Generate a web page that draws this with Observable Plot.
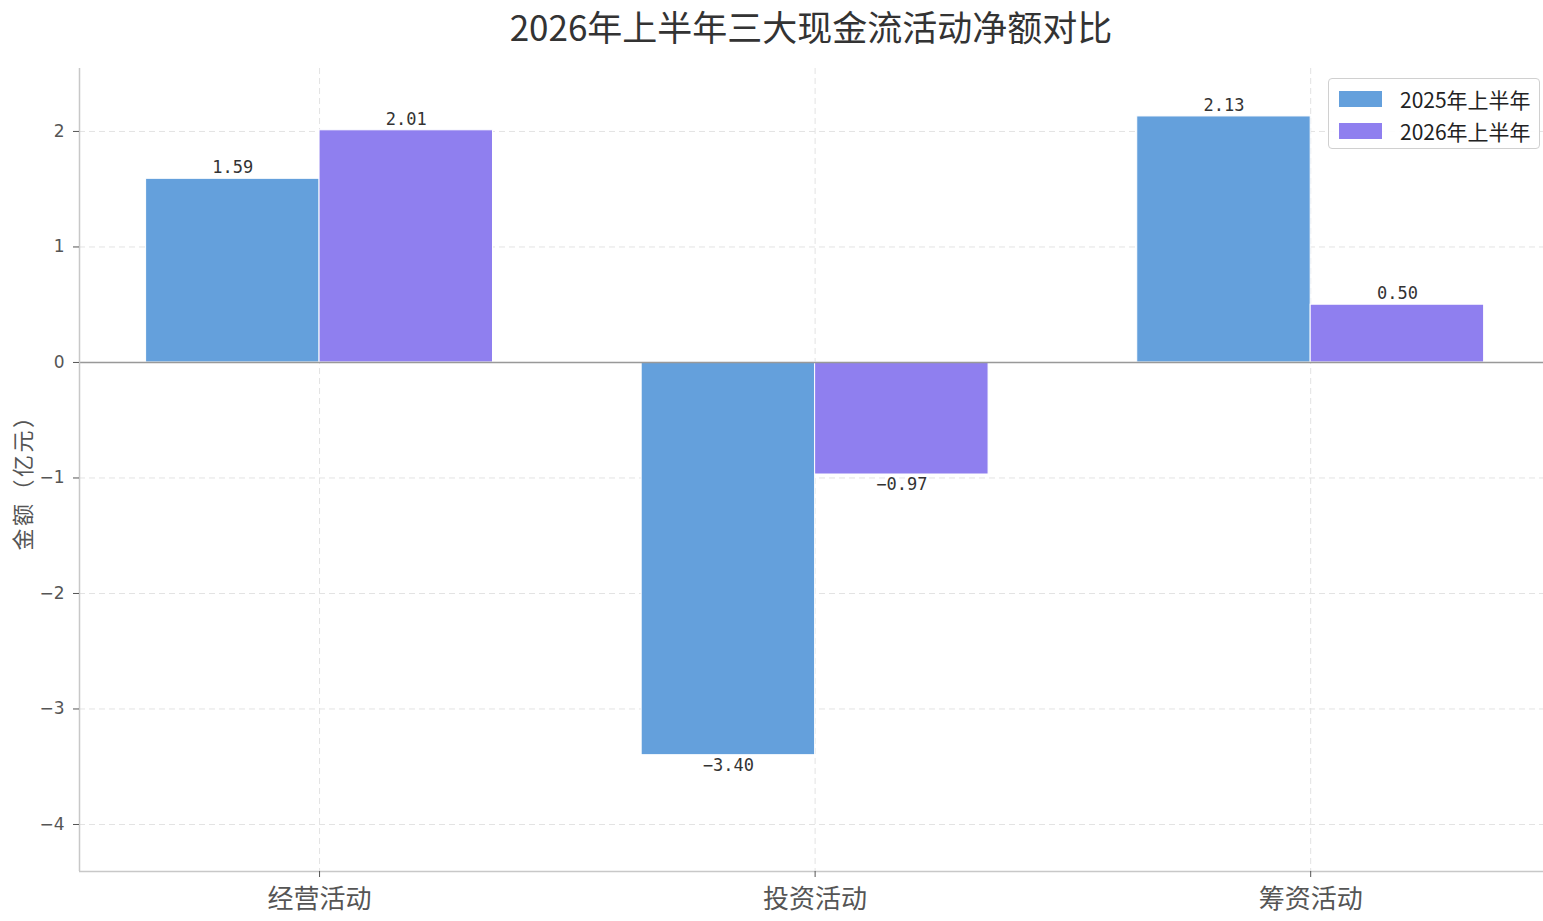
<!DOCTYPE html>
<html>
<head>
<meta charset="utf-8">
<script src="https://cdn.jsdelivr.net/npm/d3@7"></script>
<script src="https://cdn.jsdelivr.net/npm/@observablehq/plot@0.6"></script>
<style>
  html, body { margin: 0; padding: 0; background: #fff; }
  #wrap { position: relative; width: 1543px; height: 921px; overflow: hidden; }
  #title { position: absolute; left: 79px; top: 0px; width: 1464px; text-align: center;
           font-family: "Noto Sans CJK SC", sans-serif; font-size: 35px; line-height: normal; color: #333; white-space: nowrap; }
  #chart { position: absolute; left: 0; top: 50px; }
  #ylabel { position: absolute; left: 21px; top: 477px; transform: translate(-50%, -50%) rotate(-90deg);
            font-family: "Noto Sans CJK SC", sans-serif; font-size: 22px; color: #555; white-space: nowrap;
            letter-spacing: 2.5px; font-feature-settings: "fwid" 1; }
  #legend { position: absolute; left: 1328px; top: 78px; width: 212px; height: 71px; box-sizing: border-box;
            border: 1.5px solid #d0d0d0; border-radius: 4px; background: rgba(255,255,255,0.9);
            font-family: "Noto Sans CJK SC", sans-serif; font-size: 21px; color: #222; }
  .item { position: absolute; left: 10px; height: 28px; display: flex; align-items: center; }
  .sw { width: 43px; height: 16px; margin-right: 18px; }
</style>
</head>
<body>
<div id="wrap">
  <div id="title"></div>
  <div id="chart"></div>
  <div id="ylabel"></div>
  <div id="legend"></div>
</div>
<script>
const title = "2026年上半年三大现金流活动净额对比";
const yLabel = "金额（亿元）";
const categories = ["经营活动", "投资活动", "筹资活动"];
const seriesNames = ["2025年上半年", "2026年上半年"];
const values2025 = [1.59, -3.40, 2.13];
const values2026 = [2.01, -0.97, 0.50];
const colors = ["#64a0dc", "#8f7fef"];
const yTicks = [-4, -3, -2, -1, 0, 1, 2];

const seriesValues = [values2025, values2026];
const barW = 0.35;
const rows = [];
seriesValues.forEach((vals, j) => vals.forEach((v, i) => rows.push({
  cat: categories[i], i, series: seriesNames[j], j, value: v,
  x1: i - barW + j * barW, x2: i + j * barW
})));

document.getElementById("title").textContent = title;
document.getElementById("ylabel").textContent = yLabel;

const xDomain = [-0.4844, 2.4698];
const yDomain = [-4.407, 2.545];
const fmtTick = d => d < 0 ? "\u2212" + Math.abs(d) : String(d);
const fmtVal = d => d.toFixed(2);

const chart = Plot.plot({
  width: 1543,
  height: 871,
  marginTop: 18,
  marginBottom: 50,
  marginLeft: 79,
  marginRight: 0,
  style: { fontFamily: "'Noto Sans CJK SC', sans-serif", background: "transparent", overflow: "visible" },
  x: { type: "linear", domain: xDomain, axis: null },
  y: { domain: yDomain, axis: null },
  marks: [
    Plot.gridY(yTicks, { stroke: "#e3e3e3", strokeOpacity: 1, strokeWidth: 1, strokeDasharray: "6,4" }),
    Plot.gridX([0, 1, 2], { stroke: "#e3e3e3", strokeOpacity: 1, strokeWidth: 1, strokeDasharray: "6,4" }),
    Plot.rectY(rows, { x1: "x1", x2: "x2", y1: 0, y2: "value", fill: d => colors[d.j], stroke: "#fff", strokeWidth: 1 }),
    Plot.ruleY([0], { stroke: "#999", strokeWidth: 1.5 }),
    Plot.ruleX([xDomain[0]], { stroke: "#c8c8c8", strokeWidth: 1.5 }),
    Plot.ruleY([yDomain[0]], { stroke: "#c8c8c8", strokeWidth: 1.5 }),
    Plot.axisY(yTicks, { tickFormat: fmtTick, tickSize: 6, tickPadding: 9, fontSize: 17, fill: "#555", stroke: "#555",
      fontFamily: "'DejaVu Sans', sans-serif", label: null }),
    Plot.axisX([0, 1, 2], { tickFormat: i => categories[i], tickSize: 6, tickPadding: 12, fontSize: 26, fill: "#555", stroke: "#555", label: null }),
    Plot.text(rows.filter(d => d.value >= 0), { x: d => (d.x1 + d.x2) / 2, y: "value", text: d => fmtVal(d.value),
      dy: -11, fontSize: 17, fill: "#333", fontFamily: "'DejaVu Sans Mono', monospace", lineAnchor: "middle" }),
    Plot.text(rows.filter(d => d.value < 0), { x: d => (d.x1 + d.x2) / 2, y: "value", text: d => fmtVal(d.value).replace("-", "\u2212"),
      dy: 10, fontSize: 17, fill: "#333", fontFamily: "'DejaVu Sans Mono', monospace", lineAnchor: "middle" })
  ]
});
document.getElementById("chart").appendChild(chart);

const legend = document.getElementById("legend");
seriesNames.forEach((name, j) => {
  const it = document.createElement("div");
  it.className = "item";
  it.style.top = (6 + j * 32) + "px";
  const sw = document.createElement("div");
  sw.className = "sw";
  sw.style.background = colors[j];
  const tx = document.createElement("span");
  tx.textContent = name;
  it.appendChild(sw);
  it.appendChild(tx);
  legend.appendChild(it);
});
</script>
</body>
</html>
